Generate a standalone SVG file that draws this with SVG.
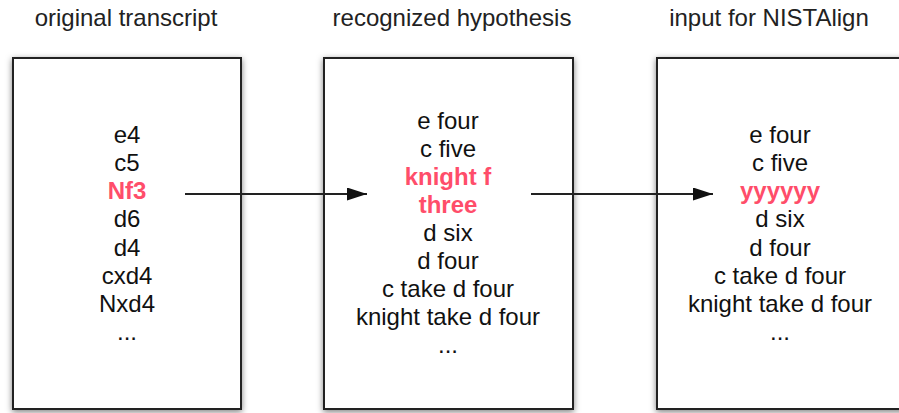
<svg xmlns="http://www.w3.org/2000/svg" width="899" height="413" viewBox="0 0 899 413">
<style>
text{font-family:"Liberation Sans",Arial,Helvetica,sans-serif;font-size:24px;fill:#111;text-anchor:middle}
.title{fill:#222}
.hl{fill:#ff4d6a;font-weight:bold}
.box{fill:#fff;stroke:#222;stroke-width:2;filter:url(#sh)}
.conn{stroke:#222;stroke-width:2;fill:none;marker-end:url(#ah)}
</style>
<defs>
<filter id="sh" x="-10%" y="-10%" width="120%" height="120%">
<feDropShadow dx="0" dy="2" stdDeviation="3" flood-color="#000" flood-opacity="0.5"/>
</filter>
<marker id="ah" viewBox="0 0 20 13" refX="20" refY="6.5" markerWidth="20" markerHeight="13" orient="auto" markerUnits="userSpaceOnUse">
<path d="M0,0 L20,6.5 L0,13 Z" fill="#111"/>
</marker>
</defs>
<rect width="899" height="413" fill="#fff"/>
<g id="original">
<text class="title" x="126" y="26">original transcript</text>
<rect class="box" x="13" y="58" width="228" height="351"/>
<text x="127" y="143">e4</text>
<text x="127" y="171">c5</text>
<text class="hl" x="127" y="199">Nf3</text>
<text x="127" y="227">d6</text>
<text x="127" y="255.5">d4</text>
<text x="127" y="284">cxd4</text>
<text x="127" y="312">Nxd4</text>
<text x="127" y="340">...</text>
</g>
<g id="hypothesis">
<text class="title" x="452" y="26">recognized hypothesis</text>
<rect class="box" x="324" y="58" width="249" height="351"/>
<text x="448" y="128.5">e four</text>
<text x="448" y="156.5">c five</text>
<text class="hl" x="448" y="184.5">knight f</text>
<text class="hl" x="448" y="212.5">three</text>
<text x="448" y="240.5">d six</text>
<text x="448" y="268.5">d four</text>
<text x="448" y="296.5">c take d four</text>
<text x="448" y="325">knight take d four</text>
<text x="448" y="353">...</text>
</g>
<g id="nistalign">
<text class="title" x="769" y="26">input for NISTAlign</text>
<rect class="box" x="657" y="58" width="260" height="351"/>
<text x="780" y="143">e four</text>
<text x="780" y="171">c five</text>
<text class="hl" x="780" y="199">yyyyyy</text>
<text x="780" y="227">d six</text>
<text x="780" y="255.5">d four</text>
<text x="780" y="284">c take d four</text>
<text x="780" y="312">knight take d four</text>
<text x="780" y="340">...</text>
</g>
<g id="connectors">
<line class="conn" x1="185" y1="194" x2="367" y2="194"/>
<line class="conn" x1="531" y1="194" x2="713" y2="194"/>
</g>
</svg>
